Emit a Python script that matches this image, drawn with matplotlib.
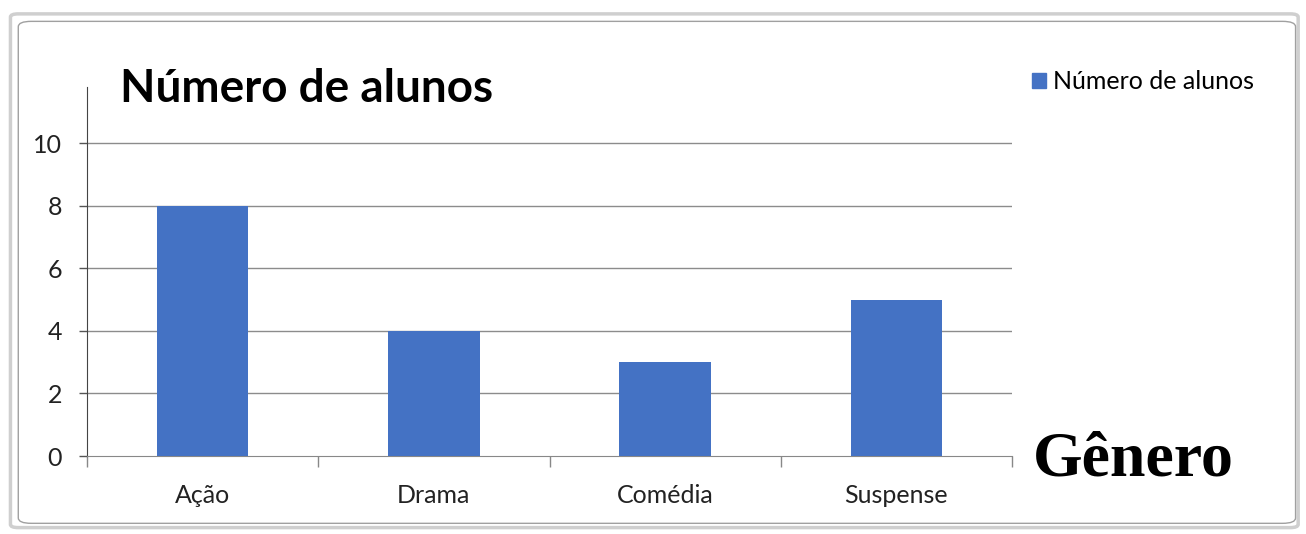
import matplotlib
matplotlib.use("Agg")
from matplotlib import pyplot as plt
from matplotlib.patches import FancyBboxPatch, Patch

generos = ['Ação', 'Drama', 'Comédia', 'Suspense']
alunos = [8, 4, 3, 5]
yticks = [0, 2, 4, 6, 8, 10]

blue = '#4472C4'
plt.rcParams['font.family'] = ['Lato', 'DejaVu Sans']

fig = plt.figure(figsize=(13.06, 5.34), dpi=100)

# window frame around the chart
frame = FancyBboxPatch((0.008, 0.012), 0.986, 0.962, boxstyle='round,pad=0,rounding_size=0.006',
                       transform=fig.transFigure, facecolor='white', edgecolor='#cfcfcf',
                       linewidth=2.5, zorder=-2)
fig.patches.append(frame)
inner = FancyBboxPatch((0.014, 0.02), 0.978, 0.94, boxstyle='round,pad=0,rounding_size=0.01',
                       transform=fig.transFigure, facecolor='white', edgecolor='#a0a0a0',
                       linewidth=1.0, zorder=-1)
fig.patches.append(inner)

# plot area: x 87..1012, y 87..456 px
ax = fig.add_axes([87/1306, 1 - 456/534, (1012-87)/1306, (456-87)/534])
ax.set_facecolor('none')
x = range(len(generos))
ax.bar(x, alunos, width=0.395, color=blue, zorder=3)
ax.set_xlim(-0.5, 3.5)
ax.set_ylim(0, 11.8)
ax.set_yticks(yticks)
ax.set_yticklabels([str(v) for v in yticks], fontsize=18, color='#222222')
ax.tick_params(axis='y', length=6, width=1, color='#555555', pad=12)
for v in yticks[1:]:
    ax.axhline(v, color='#8c8c8c', linewidth=1, zorder=1)

ax.set_xticks([i - 0.5 for i in range(len(generos) + 1)], minor=False)
ax.set_xticklabels([])
ax.tick_params(axis='x', length=8, width=1, color='#888888', direction='out')
ax.set_xticks(list(x), minor=True)
ax.set_xticklabels(generos, minor=True, fontsize=18, color='#222222')
ax.tick_params(axis='x', which='minor', length=0, pad=20)

for s in ['top', 'right']:
    ax.spines[s].set_visible(False)
ax.spines['left'].set_color('#444444')
ax.spines['bottom'].set_color('#888888')

fig.text(120/1306, 1 - 89/534, 'Número de alunos', fontsize=33, fontweight='bold',
         va='center', ha='left', color='black')
fig.text(1033/1306, 1 - 460/534, 'Gênero', fontsize=46, fontweight='bold',
         family='Liberation Serif', va='center', ha='left', color='black')

fig.legend(handles=[Patch(color=blue, label='Número de alunos')], loc='center left',
           bbox_to_anchor=(1022/1306, 1 - 82/534), frameon=False, fontsize=18,
           handlelength=0.55, handleheight=0.55, handletextpad=0.3, borderaxespad=0)

fig.savefig('out.png', dpi=100)
